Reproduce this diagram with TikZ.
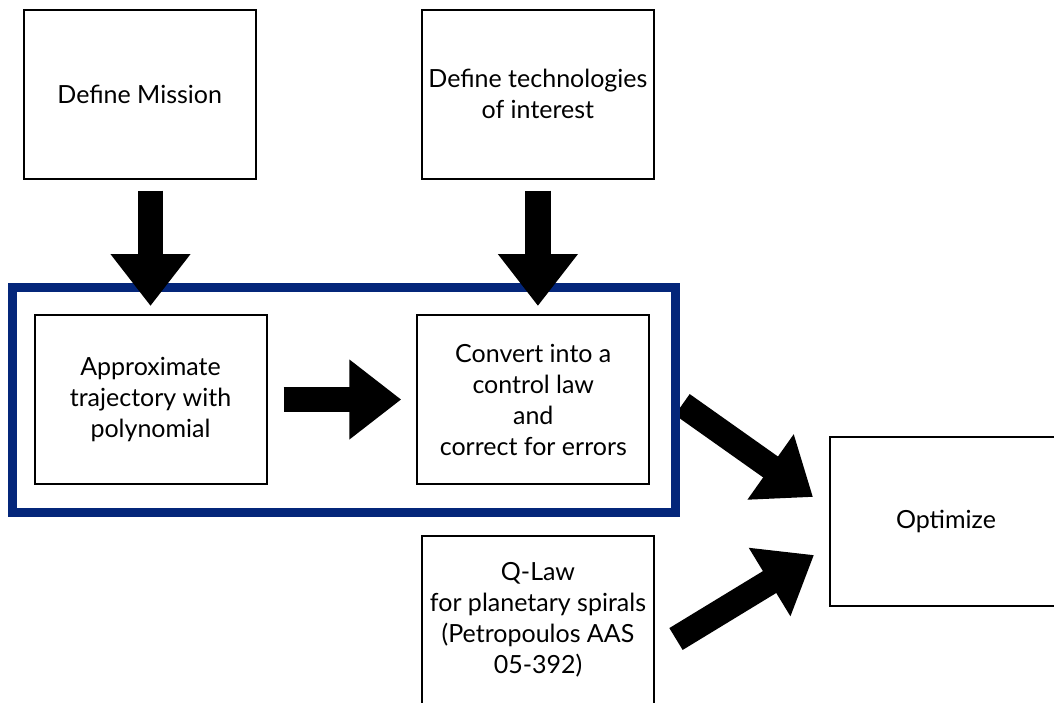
\documentclass[tikz,border=0pt]{standalone}
\usepackage{fontspec}
\setmainfont{Lato}
\usetikzlibrary{arrows.meta,calc}
\definecolor{frameblue}{RGB}{4,38,122}
\begin{document}
\begin{tikzpicture}[x=1pt,y=-1pt,
  box/.style={draw=black, line width=2pt, align=center, inner sep=0pt,
    minimum width=232pt, minimum height=169pt,
    font=\fontsize{25}{31}\selectfont},
  blk/.style={line width=25.6pt, black, -{Triangle[width=76.6pt,length=52pt]}},
  grpframe/.style={draw=frameblue, line width=9pt, inner sep=0pt}]
\useasboundingbox (0,0) rectangle (1054,702);
\fill[white] (0,0) rectangle (1054,702);

\node[box] (dm)  at (139.7,94.2) {Define Mission};
\node[box] (dt)  at (537.9,94.2) {Define technologies\\of interest};
\node[box] (apx) at (150.5,399.5) {Approximate\\trajectory with\\polynomial};
\node[box] (cv)  at (533.3,399.5) {Convert into a\\control law\\and\\correct for errors};
\node[box] (opt) at (946,521) {Optimize};
\node[box] (ql)  at (538,620) {Q-Law\\for planetary spirals\\(Petropoulos AAS\\05-392)};

% arrow out of the group (under the frame)
\draw[blk] ($(cv.east)+(32,5)$) -- ($(opt.west)+(-16,-24)$);

% group frame
\node[grpframe, minimum width=662.5pt, minimum height=224.5pt] (grp) at (343.75,399.75) {};

% remaining arrows
\draw[blk] ($(apx.north |- dm.south)+(0,11)$) -- ($(apx.north)+(0,-8)$);
\draw[blk] ($(dt.south)+(0,11)$) -- ($(dt.south |- cv.north)+(0,-8)$);
\draw[blk] ($(apx.east)+(16,0)$) -- ($(cv.west)+(-15,0)$);
\draw[blk] ($(ql.east)+(21,19)$) -- ($(opt.west)+(-15,34)$);
\end{tikzpicture}
\end{document}
